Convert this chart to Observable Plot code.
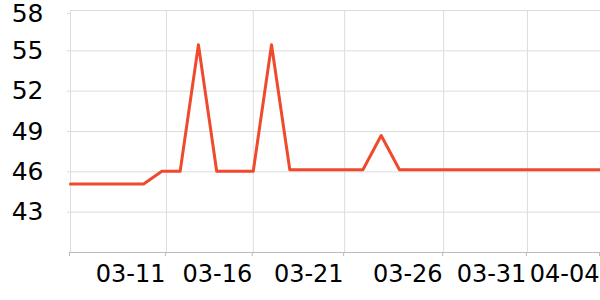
<!DOCTYPE html>
<html>
<head>
<meta charset="utf-8">
<script src="https://cdn.jsdelivr.net/npm/d3@7"></script>
<script src="https://cdn.jsdelivr.net/npm/@observablehq/plot@0.6"></script>
<style>
  html, body { margin: 0; padding: 0; background: #fff; }
  #chart { width: 600px; height: 300px; }
</style>
</head>
<body>
<div id="chart"></div>
<script>
const dates = [
  "2024-03-06","2024-03-07","2024-03-08","2024-03-09","2024-03-10",
  "2024-03-11","2024-03-12","2024-03-13","2024-03-14","2024-03-15",
  "2024-03-16","2024-03-17","2024-03-18","2024-03-19","2024-03-20",
  "2024-03-21","2024-03-22","2024-03-23","2024-03-24","2024-03-25",
  "2024-03-26","2024-03-27","2024-03-28","2024-03-29","2024-03-30",
  "2024-03-31","2024-04-01","2024-04-02","2024-04-03","2024-04-04"
];
const values = [
  45.1, 45.1, 45.1, 45.1, 45.1,
  46.05, 46.05, 55.45, 46.05, 46.05,
  46.05, 55.45, 46.15, 46.15, 46.15,
  46.15, 46.15, 48.7, 46.15, 46.15,
  46.15, 46.15, 46.15, 46.15, 46.15,
  46.15, 46.15, 46.15, 46.15, 46.15
];
const xTickDates = [
  "2024-03-06T00:00Z","2024-03-11T06:00Z","2024-03-16T00:00Z","2024-03-21T00:00Z",
  "2024-03-26T10:00Z","2024-03-31T00:00Z","2024-04-04T00:00Z"
];
const xTickLabels = ["", "03-11", "03-16", "03-21", "03-26", "03-31", "04-04"];
const yTicks = [43, 46, 49, 52, 55, 58];
const yDomain = [40, 58];

const data = dates.map((d, i) => ({date: new Date(d + "T00:00Z"), value: values[i]}));
const xTicks = xTickDates.map(d => new Date(d));
const labelMap = new Map(xTicks.map((d, i) => [+d, xTickLabels[i]]));
const yTop = yTicks[yTicks.length - 1];

const chart = Plot.plot({
  width: 600,
  height: 300,
  marginLeft: 70,
  marginRight: 0,
  marginTop: 10,
  marginBottom: 48,
  style: {fontFamily: "'DejaVu Sans', sans-serif", background: "#fff", color: "#000"},
  x: {type: "utc", domain: [data[0].date, data[data.length - 1].date], label: null},
  y: {domain: yDomain, label: null},
  marks: [
    Plot.gridY(yTicks, {stroke: "#dcdcdc", strokeOpacity: 1}),
    Plot.gridX(xTicks, {stroke: "#dcdcdc", strokeOpacity: 1}),
    Plot.axisY(yTicks.filter(d => d !== yTop), {label: null, tickSize: 3, tickPadding: 24, stroke: "#dcdcdc", fill: "#000", fontSize: 25, tickFormat: d => String(d)}),
    Plot.axisY([yTop], {label: null, tickSize: 3, tickPadding: 24, stroke: "#dcdcdc", fill: "#000", fontSize: 25, dy: 3, tickFormat: d => String(d)}),
    Plot.ruleY([yDomain[0]], {stroke: "#bbb"}),
    Plot.axisX(xTicks, {label: null, tickSize: 4, tickPadding: 8, stroke: "#bbb", fill: "#000", fontSize: 24, textAnchor: "end", dx: -1, tickFormat: d => labelMap.get(+d) ?? ""}),
    Plot.lineY(data, {x: "date", y: "value", stroke: "#f04a2e", strokeWidth: 3})
  ]
});
document.getElementById("chart").appendChild(chart);
</script>
</body>
</html>
